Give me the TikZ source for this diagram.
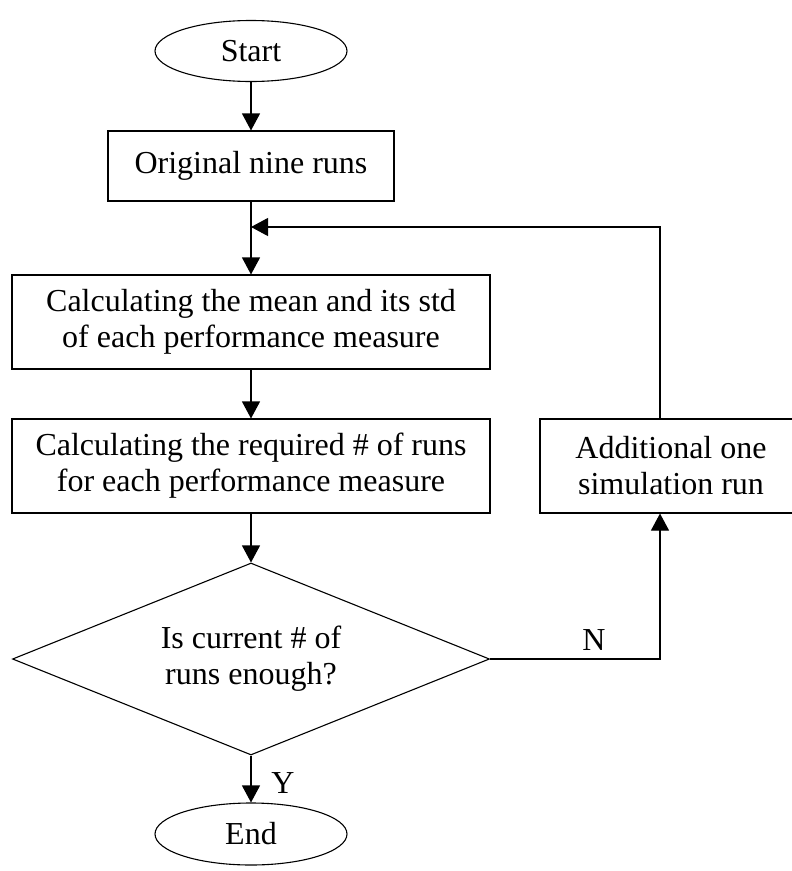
\documentclass[tikz,border=0pt]{standalone}
\usepackage{fontspec}
\setmainfont{Liberation Serif}
\usetikzlibrary{shapes.geometric,arrows.meta}

\tikzset{
  flowarrow/.style={-{Triangle[length=17pt,width=18pt]}},
}

\begin{document}
\begin{tikzpicture}[x=1pt,y=-1pt,line width=1.1pt,
    every node/.style={font=\fontsize{32}{36}\selectfont, align=center, inner sep=0pt}]

      \useasboundingbox (0,0) rectangle (792,871);

      \begin{scope}[every node/.style={draw, font=\fontsize{32}{36}\selectfont, align=center, inner sep=0pt}]
        \node[ellipse, minimum width=192pt, minimum height=61pt] (start) at (251,51) {Start};
        \node[minimum width=286pt, minimum height=70pt] (orig) at (251,166) {Original nine runs};
        \node[minimum width=478pt, minimum height=94pt] (mean) at (251,322) {Calculating the mean and its std\\of each performance measure};
        \node[minimum width=478pt, minimum height=94pt] (req) at (251,466) {Calculating the required \# of runs\\for each performance measure};
        \node[diamond, aspect=2.48, minimum width=477pt, minimum height=192pt] (check) at (251,659) {Is current \# of\\runs enough?};
        \node[minimum width=262pt, minimum height=94pt] (add) at (671,466) {Additional one\\simulation run};
        \node[ellipse, minimum width=192pt, minimum height=62pt] (end) at (251,834) {End};
      \end{scope}

      \coordinate (merge) at (orig.south |- 0,227);
      \coordinate (nturn) at (660,659);

      \node (nlab) at (594,640) {N};
      \node (ylab) at (283,783) {Y};

      \begin{scope}[every edge/.style={draw, flowarrow}]
        \path (start) edge (orig);
        \path (merge) edge (mean);
        \path (mean)  edge (req);
        \path (req)   edge (check);
        \path (check) edge (end);
      \end{scope}

      \draw (orig.south) -- (merge);
      \draw[flowarrow] (check.east) -| (add.south -| nturn);
      \draw[flowarrow] (add.north -| nturn) |- (merge);

    \end{tikzpicture}
\end{document}
